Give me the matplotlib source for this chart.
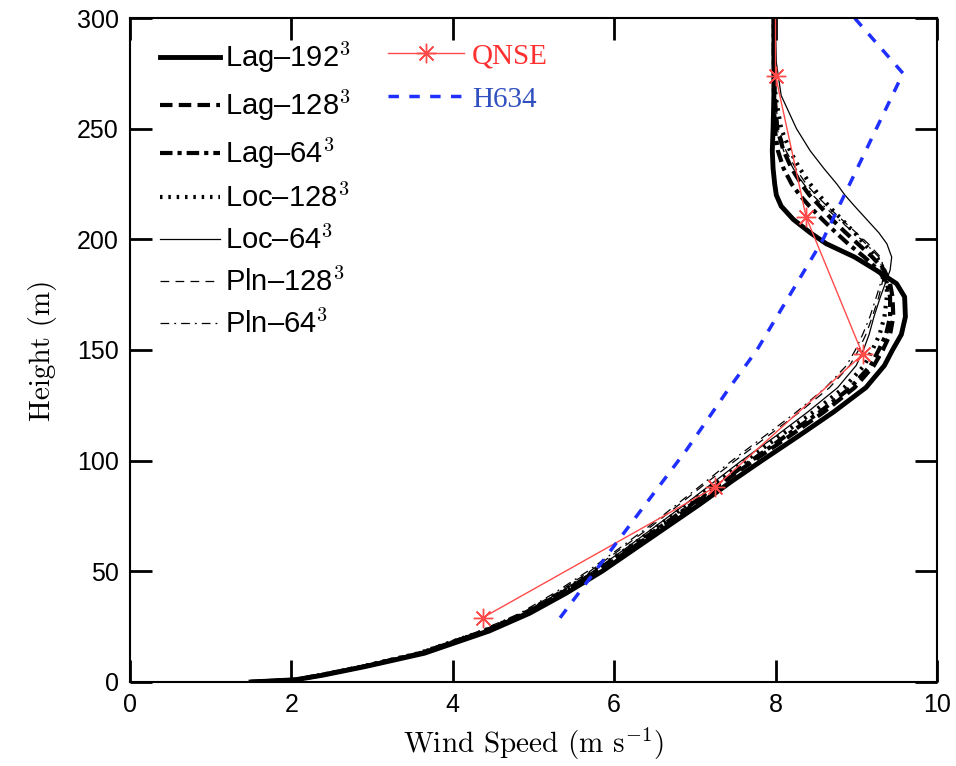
import numpy as np
import matplotlib
matplotlib.use("Agg")
import matplotlib.pyplot as plt

plt.rcParams["mathtext.fontset"] = "cm"

# heights shared by the LES profiles (m)
height = [0, 1, 3, 7, 13, 23, 31, 40, 50, 60, 70, 80, 91, 100, 111, 122, 133,
          143, 150, 157, 165, 174, 180, 186, 192, 198, 203, 209, 215, 220, 225,
          232, 240, 250, 265, 280, 300]

lag192 = [1.5, 2.05, 2.38, 2.92, 3.65, 4.45, 4.95, 5.4, 5.85, 6.25, 6.65, 7.05,
          7.47, 7.83, 8.28, 8.72, 9.12, 9.35, 9.45, 9.56, 9.61, 9.6, 9.5, 9.25,
          8.98, 8.63, 8.43, 8.22, 8.07, 8.01, 7.99, 7.97, 7.96, 7.97, 7.98,
          7.98, 7.98]
lag128 = [1.5, 2.05, 2.36, 2.9, 3.62, 4.42, 4.92, 5.36, 5.8, 6.2, 6.6, 6.98,
          7.38, 7.73, 8.17, 8.6, 8.98, 9.22, 9.33, 9.42, 9.46, 9.45, 9.42,
          9.35, 9.2, 9.02, 8.87, 8.7, 8.55, 8.42, 8.32, 8.2, 8.1, 8.02, 7.99,
          7.98, 7.98]
lag64 = [1.5, 2.05, 2.35, 2.89, 3.6, 4.4, 4.9, 5.34, 5.78, 6.18, 6.57, 6.95,
         7.35, 7.7, 8.12, 8.55, 8.93, 9.18, 9.28, 9.37, 9.42, 9.42, 9.38, 9.28,
         9.1, 8.9, 8.75, 8.58, 8.42, 8.3, 8.2, 8.1, 8.03, 7.99, 7.98, 7.98,
         7.98]
loc128 = [1.5, 2.05, 2.34, 2.88, 3.58, 4.38, 4.88, 5.32, 5.75, 6.15, 6.53, 6.9,
          7.3, 7.63, 8.05, 8.47, 8.85, 9.1, 9.2, 9.29, 9.35, 9.38, 9.38, 9.35,
          9.25, 9.1, 8.98, 8.82, 8.66, 8.54, 8.43, 8.3, 8.18, 8.07, 8.0, 7.98,
          7.98]
loc64 = [1.5, 2.05, 2.34, 2.88, 3.58, 4.37, 4.87, 5.31, 5.74, 6.13, 6.5, 6.87,
         7.26, 7.58, 8.0, 8.4, 8.77, 9.0, 9.09, 9.16, 9.22, 9.3, 9.36, 9.42,
         9.44, 9.38, 9.28, 9.13, 8.98, 8.86, 8.76, 8.6, 8.43, 8.26, 8.07, 8.01,
         7.99]
pln128 = [1.5, 2.05, 2.33, 2.86, 3.56, 4.35, 4.85, 5.28, 5.7, 6.08, 6.45, 6.8,
          7.18, 7.5, 7.9, 8.3, 8.67, 8.92, 9.03, 9.12, 9.2, 9.28, 9.32, 9.35,
          9.3, 9.15, 9.0, 8.82, 8.64, 8.5, 8.38, 8.25, 8.13, 8.04, 7.99, 7.98,
          7.98]
pln64 = [1.5, 2.05, 2.32, 2.85, 3.54, 4.33, 4.83, 5.25, 5.67, 6.05, 6.42, 6.77,
         7.15, 7.46, 7.86, 8.26, 8.62, 8.88, 8.99, 9.08, 9.17, 9.25, 9.3, 9.33,
         9.28, 9.12, 8.97, 8.78, 8.6, 8.46, 8.35, 8.22, 8.1, 8.02, 7.99, 7.98,
         7.98]

qnse_u = [4.37, 7.25, 9.08, 8.38, 8.0, 8.0]
qnse_z = [29, 88, 148, 210, 274, 340]
h634_u = [5.33, 5.99, 6.9, 7.43, 7.77, 8.59, 9.21, 9.58, 8.98]
h634_z = [29, 61, 105, 133, 150, 200, 247, 275, 300]

fig = plt.figure(figsize=(9.56, 7.66), dpi=100)
ax = fig.add_axes([0.136, 0.1097, 0.844, 0.8668])

les = [
    (lag192, "Lag\u2013192$^{\\mathsf{3}}$", dict(ls="-", lw=3.5)),
    (lag128, "Lag\u2013128$^{\\mathsf{3}}$", dict(ls=(0, (3, 1.5)), lw=3)),
    (lag64, "Lag\u201364$^{\\mathsf{3}}$", dict(ls=(0, (3, 1.2, 1, 1.2)), lw=3)),
    (loc128, "Loc\u2013128$^{\\mathsf{3}}$", dict(ls=(0, (0.6, 1.4)), lw=3)),
    (loc64, "Loc\u201364$^{\\mathsf{3}}$", dict(ls="-", lw=0.9)),
    (pln128, "Pln\u2013128$^{\\mathsf{3}}$", dict(ls=(0, (7, 5)), lw=0.9)),
    (pln64, "Pln\u201364$^{\\mathsf{3}}$", dict(ls=(0, (7, 4, 1.5, 4)), lw=0.9)),
]
les_lines = []
for u, lab, st in les:
    ln, = ax.plot(u, height, color="k", label=lab, **st)
    les_lines.append(ln)

q_ln, = ax.plot(qnse_u, qnse_z, color="#ff4a4a", lw=1, marker=(8, 2, 0),
                ms=14, mew=1, label="QNSE")
h_ln, = ax.plot(h634_u, h634_z, color="#1f2fff", lw=2.5, ls=(0, (3, 3)),
                label="H634")

ax.set_xlim(0, 10)
ax.set_ylim(0, 300)
ax.set_xticks([0, 2, 4, 6, 8, 10])
ax.set_yticks([0, 50, 100, 150, 200, 250, 300])
ax.tick_params(direction="in", length=16, width=2, top=True, right=True,
               labelsize=18, pad=8)
for lab in ax.get_xticklabels() + ax.get_yticklabels():
    lab.set_family(["Liberation Sans Narrow", "Liberation Sans"])
for sp in ax.spines.values():
    sp.set_linewidth(1.5)

ax.set_xlabel("Wind Speed (m s$^{\\mathbf{-1}}$)", family="cmr10", fontsize=21,
              labelpad=6)
ax.set_ylabel("Height (m)", family="cmr10", fontsize=21, labelpad=14)

leg1 = ax.legend(handles=les_lines, loc="upper left",
                 bbox_to_anchor=(0.037, 0.967), frameon=False,
                 handlelength=2.05, handletextpad=0.2, labelspacing=0.44,
                 borderaxespad=0, borderpad=0,
                 prop={"family": "Liberation Sans", "size": 21})
ax.add_artist(leg1)
leg2 = ax.legend(handles=[q_ln, h_ln], loc="upper left",
                 bbox_to_anchor=(0.320, 0.962), frameon=False,
                 handlelength=2.6, handletextpad=0.28, labelspacing=0.57,
                 borderaxespad=0, borderpad=0,
                 prop={"family": "Liberation Serif", "size": 21})
for txt, c in zip(leg2.get_texts(), ["#ff3030", "#3050c0"]):
    txt.set_color(c)

fig.savefig("out.png", dpi=100)
